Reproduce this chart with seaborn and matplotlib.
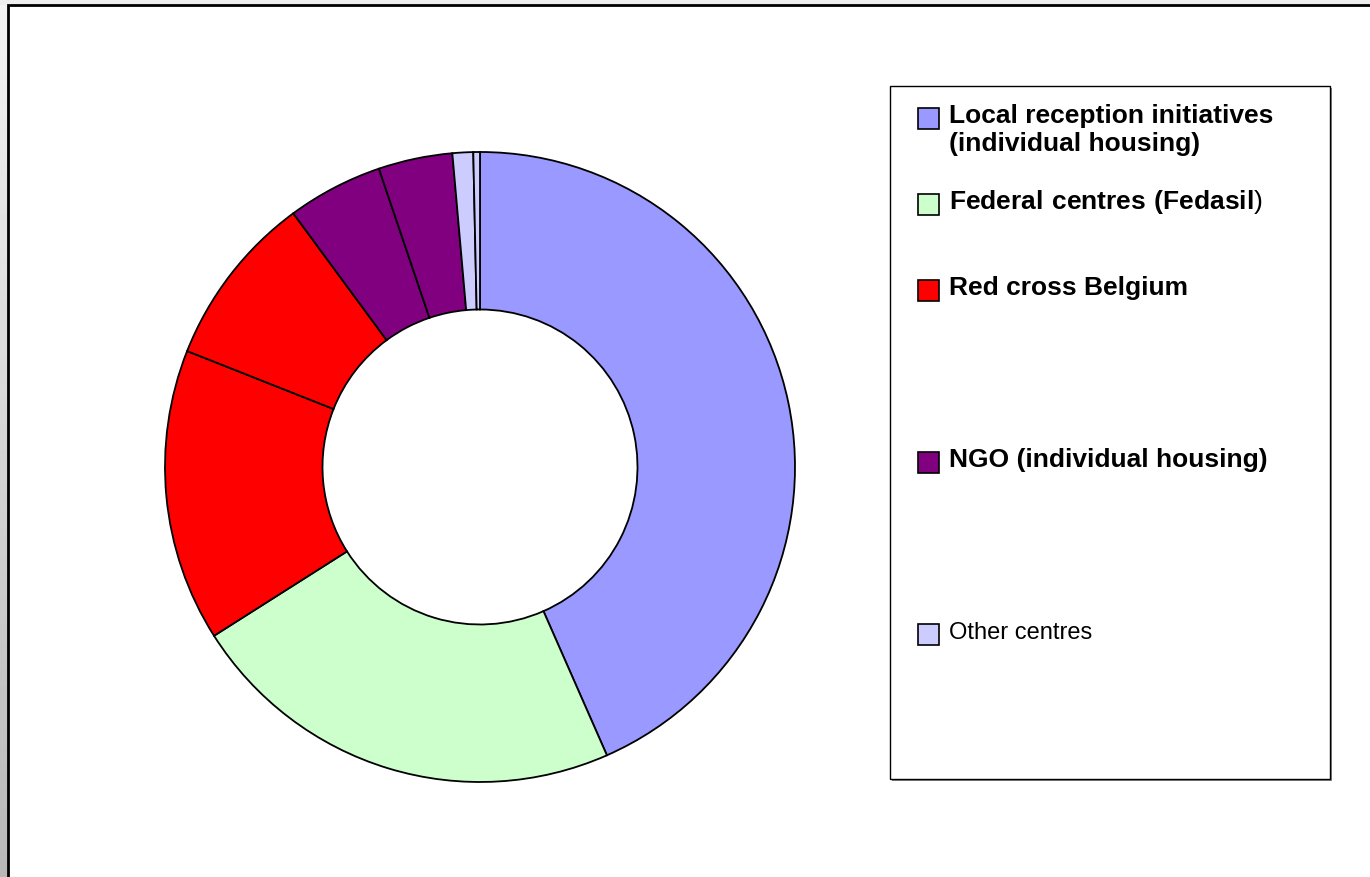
"""Donut chart of reception places by type of structure."""

import matplotlib.pyplot as plt
import numpy as np
import seaborn as sns
from matplotlib.patches import Rectangle

# shares of the ring, clockwise from 12 o'clock (fractions)
SEGMENTS = ["local", "federal", "red_cross_1", "red_cross_2", "ngo_1", "ngo_2", "other_1", "other_2"]
SHARES = [43.4, 22.6, 15.0, 8.9, 4.9, 3.8, 1.06, 0.34]
COLORS = ["#9999FF", "#CCFFCC", "#FF0000", "#FF0000", "#800080", "#800080", "#CCCCFF", "#CCCCFF"]
LEGEND_LABELS = [
    ["Local reception initiatives", "(individual housing)"],
    [r"$\mathbf{Federal\ centres\ (Fedasil}$)"],
    ["Red cross Belgium"],
    [],
    ["NGO (individual housing)"],
    [],
    ["Other centres"],
    [],
]
LEGEND_BOLD = [True, False, True, False, True, False, False, False]

W, H = 1370, 878

sns.set_theme(style="white")
plt.rcParams["font.family"] = ["Liberation Sans", "DejaVu Sans"]
plt.rcParams["mathtext.fontset"] = "custom"
plt.rcParams["mathtext.bf"] = "Liberation Sans:bold"
plt.rcParams["mathtext.rm"] = "Liberation Sans"

fig = plt.figure(figsize=(W / 100, H / 100), dpi=100, facecolor="#EEEEEE")

# overlay in pixel coordinates for the slide frame
bg = fig.add_axes([0, 0, 1, 1], zorder=0)
bg.set_xlim(0, W)
bg.set_ylim(H, 0)
bg.axis("off")
strip = np.linspace(0.95, 0.72, 100).reshape(-1, 1)
bg.imshow(strip, cmap="gray", vmin=0, vmax=1, extent=(0, 8, H, 6), aspect="auto")
bg.add_patch(Rectangle((8, 6), W + 20, H + 20, facecolor="white", edgecolor="black", linewidth=2))

# donut
ax = fig.add_axes([(480 - 315) / W, (H - 468 - 315) / H, 630 / W, 630 / H], zorder=1)
ax.pie(
    SHARES,
    colors=COLORS,
    startangle=90,
    counterclock=False,
    radius=1.0,
    wedgeprops=dict(width=0.5, edgecolor="black", linewidth=1.3),
)
ax.set_xlim(-1, 1)
ax.set_ylim(-1, 1)
ax.set_aspect("equal")
ax.axis("off")

# legend box with one slot per segment
lg = fig.add_axes([0, 0, 1, 1], zorder=2)
lg.set_xlim(0, W)
lg.set_ylim(H, 0)
lg.axis("off")
lg.add_patch(Rectangle((892, 89), 440, 693, facecolor="#888888", edgecolor="none"))
lg.add_patch(Rectangle((890, 87), 440, 693, facecolor="white", edgecolor="black", linewidth=1))
for i, (lines, color, bold) in enumerate(zip(LEGEND_LABELS, COLORS, LEGEND_BOLD)):
    if not lines:
        continue
    base = 123 + 86 * i
    lg.add_patch(Rectangle((918, base - 14), 21, 21, facecolor=color, edgecolor="black", linewidth=1.2))
    size = 17 if lines[0] == "Other centres" else 19
    for j, line in enumerate(lines):
        lg.text(949, base + 28 * j, line, fontsize=size, color="black",
                fontweight="bold" if bold else "normal", va="baseline", ha="left")

fig.savefig("out.png", dpi=100, facecolor=fig.get_facecolor())
